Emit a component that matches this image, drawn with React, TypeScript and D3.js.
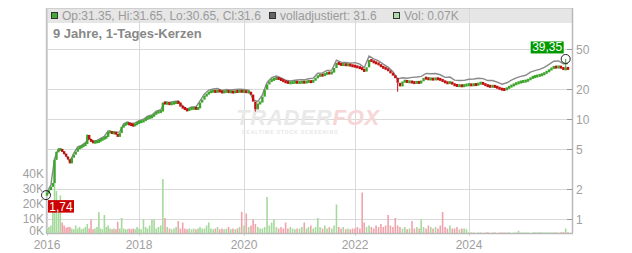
import React from "react";
import * as d3 from "d3";

// ---------- DATA ----------
// semi-monthly closes (1st & 16th of each month), Jan 2016 .. Oct 2025
const closes: number[] = [
  // 2016
  1.8, 1.95, 2.1, 2.3, 3.9, 4.7, 4.9, 5.0, 4.7, 4.5, 4.2, 3.95, 3.6, 4.1, 4.4, 4.7, 5.1, 5.2, 5.3, 5.5, 5.6, 6.9, 6.2, 6.0,
  // 2017
  5.8, 5.9, 5.9, 6.0, 6.2, 6.3, 6.5, 6.6, 7.4, 7.4, 7.2, 7.3, 7.1, 6.6, 7.2, 8.3, 8.6, 9.0, 9.0, 8.8, 8.7, 8.6, 8.8, 9.1,
  // 2018
  9.3, 9.4, 9.6, 10.0, 10.2, 10.4, 10.5, 11.2, 11.5, 11.8, 11.8, 14.5, 14.2, 14.3, 14.0, 14.2, 14.4, 14.6, 14.5, 13.2, 12.9, 12.4, 12.1, 12.6,
  // 2019
  12.6, 12.8, 12.6, 12.7, 14.5, 15.5, 17.0, 17.4, 18.6, 18.6, 19.0, 18.4, 19.2, 18.6, 18.4, 18.6, 18.8, 18.5, 18.6, 18.3, 18.8, 18.6, 18.9, 18.6,
  // 2020
  18.8, 18.4, 18.5, 17.4, 14.8, 12.4, 14.2, 14.5, 16.6, 19.5, 22.0, 23.5, 24.5, 24.8, 25.5, 24.8, 24.4, 23.5, 23.2, 22.8, 22.8, 23.0, 23.2, 22.9,
  // 2021
  23.0, 23.2, 23.0, 23.4, 23.6, 23.2, 24.0, 25.5, 26.8, 27.3, 27.0, 28.0, 28.6, 28.4, 28.8, 32.0, 36.0, 35.0, 34.5, 34.8, 34.2, 34.6, 33.8, 33.5,
  // 2022
  33.2, 32.5, 32.0, 31.0, 29.5, 32.5, 38.5, 37.5, 36.2, 35.8, 34.5, 33.0, 32.0, 31.5, 30.0, 28.6, 27.0, 25.5, 22.8, 21.0, 23.5, 23.8, 23.2, 23.4,
  // 2023
  23.0, 22.8, 23.2, 22.8, 23.6, 25.5, 25.2, 24.8, 25.0, 24.6, 25.2, 24.8, 24.5, 23.6, 23.0, 22.6, 23.2, 22.0, 21.6, 21.3, 21.4, 21.2, 21.5, 21.8,
  // 2024
  21.9, 21.6, 22.0, 21.8, 22.4, 22.8, 22.2, 21.5, 21.2, 20.9, 21.2, 20.8, 20.4, 19.8, 19.6, 19.5, 20.2, 20.9, 21.4, 22.0, 22.6, 23.0, 23.4, 23.6,
  // 2025
  23.8, 24.5, 25.5, 26.1, 26.4, 26.8, 27.2, 27.6, 28.5, 29.5, 30.5, 32.0, 32.8, 32.5, 33.0, 32.2, 31.0, 31.8, 31.6,
];
const firstOpen = 1.76;

// semi-monthly volume in thousands
const volumes: number[] = [
  2.5, 4, 5, 18, 35, 28, 20, 25, 7, 5, 3.5, 4, 4, 3, 2.5, 5, 3, 4, 2.5, 3, 4, 6, 3, 9,
  2.5, 3, 4, 14, 3, 2.5, 12, 4, 5, 3, 2.5, 3, 2.5, 7.5, 3, 10, 3, 2.5, 2.5, 3, 2.5, 3, 2.5, 4,
  3, 2.5, 9, 4, 3, 5, 9, 9, 3, 4, 5, 36, 10, 4, 3, 2.5, 3, 4, 8, 3, 7, 3, 2.5, 3,
  2.5, 3, 2.5, 3, 4, 3, 3, 5, 7, 3, 2.5, 3, 4, 2.5, 3, 2.5, 3, 4, 2.5, 3, 2.5, 3, 4, 14,
  5, 13, 4, 5, 9, 6, 4, 3, 3, 4, 24, 5, 7, 9, 4, 3, 4, 3, 7, 3, 4, 3, 2.5, 3,
  3, 4, 7, 3, 4, 5, 3, 4, 10, 4, 3, 5, 3, 4, 3, 5, 19, 4, 3, 4, 2.5, 3, 2.5, 3,
  3, 4, 3, 27, 7, 4, 5, 4, 3, 5, 4, 6, 4, 5, 12, 5, 4, 10, 5, 4, 3, 4, 2.5, 3,
  8, 3, 4, 3, 9, 4, 3, 5, 4, 3, 4, 3, 5, 14, 4, 3, 5, 3, 3, 4, 2.5, 3, 3, 2.5,
  0.5, 0.3, 0.4, 0, 0.3, 0.4, 0, 0.3, 0.5, 0, 0.3, 0.4, 0, 0.3, 0.4, 0.3, 0.3, 0.5, 0, 0.3, 0.4, 1.5, 0.3, 0.4,
  0.3, 0.4, 0, 0.3, 0.5, 0.4, 0.6, 0.5, 0.4, 0.5, 0.3, 0.4, 0.5, 0.4, 0.3, 0.5, 0.6, 3, 0.5,
];

// monthly "volladjustiert" line, Jan 2016 .. Oct 2025
const adjusted: number[] = [
  1.85, 2.2, 4.0, 5.05, 4.85, 4.3, 3.75, 4.55, 5.25, 5.45, 5.8, 6.4,
  6.0, 6.1, 6.4, 6.7, 7.6, 7.4, 7.3, 7.4, 8.9, 9.3, 9.0, 9.1,
  9.6, 9.9, 10.6, 10.9, 11.9, 12.3, 14.7, 14.5, 14.9, 15.0, 13.4, 12.5,
  13.1, 13.1, 15.1, 17.7, 19.3, 19.8, 20.0, 19.1, 19.6, 19.3, 19.6, 19.7,
  19.6, 19.3, 15.5, 14.8, 17.3, 23.0, 25.6, 26.6, 25.5, 24.2, 23.8, 24.2,
  24.4, 24.4, 25.0, 25.4, 28.4, 28.6, 30.3, 30.5, 38.2, 36.6, 36.3, 35.8,
  36.2, 34.9, 32.2, 42.0, 39.5, 37.6, 34.9, 32.7, 29.4, 24.9, 25.6, 25.3,
  25.8, 26.0, 26.4, 28.2, 28.0, 28.2, 27.4, 25.8, 26.0, 24.2, 24.0, 24.1,
  24.7, 24.9, 25.3, 25.1, 24.0, 24.0, 23.1, 22.1, 22.8, 24.2, 25.5, 26.4,
  27.1, 29.1, 30.1, 31.0, 32.5, 34.8, 37.4, 37.6, 35.3, 35.5,
];

// notable wick extremes
const wickExtremes = [
  { date: "2016-01-01", low: 1.74 },
  { date: "2016-11-16", high: 7.0 },
  { date: "2020-03-16", low: 11.8 },
  { date: "2022-10-01", low: 18.6 },
  { date: "2025-09-16", high: 39.35 },
];

const priceTicks = [1, 2, 5, 10, 20, 50];
const volumeTicks = [0, 10, 20, 30, 40];
const yearTicks = [2016, 2018, 2020, 2022, 2024];
const maxLabel = { date: "2025-09-16", value: 39.35, text: "39,35" };
const minLabel = { date: "2016-01-01", value: 1.74, text: "1,74" };

const headerItems = [
  { text: "Op:31.35, Hi:31.65, Lo:30.65, Cl:31.6", fill: "#44aa33" },
  { text: "volladjustiert: 31.6", fill: "#666666" },
  { text: "Vol: 0.07K", fill: "#aaddaa" },
];

// ---------- helpers ----------
const parse = d3.timeParse("%Y-%m-%d");
function semiMonthlyDates(n: number): Date[] {
  const out: Date[] = [];
  let y = 2016, m = 0, half = 0;
  while (out.length < n) {
    out.push(new Date(y, m, half === 0 ? 1 : 16));
    if (half === 1) { m++; if (m > 11) { m = 0; y++; } }
    half = 1 - half;
  }
  return out;
}
function monthlyDates(n: number): Date[] {
  const out: Date[] = [];
  for (let i = 0; i < n; i++) out.push(new Date(2016, i, 1));
  return out;
}

const W = 632, H = 253;
const L = 46, R = 572, TOP = 8, BOT = 233;
const FONT = "'Liberation Sans', Arial, sans-serif";

export default function App() {
  const dates = semiMonthlyDates(closes.length);
  const mDates = monthlyDates(adjusted.length);

  const x = d3
    .scaleTime()
    .domain([new Date(2016, 0, 1), new Date(2018, 0, 1), new Date(2020, 0, 1), new Date(2022, 0, 1), new Date(2024, 0, 1), new Date(2025, 9, 1)])
    .range([47, 139, 244, 355, 469, 568]);
  const y = d3.scaleLog().domain([1, 50]).range([219.3, 48.5]);
  const yv = d3.scaleLinear().domain([0, 40]).range([BOT, 173]);

  const candles = closes.map((c, i) => {
    const o = i === 0 ? firstOpen : closes[i - 1];
    return { date: dates[i], open: o, close: c, vol: volumes[i] ?? 0, up: c >= o };
  });

  const line = d3
    .line<number>()
    .x((_, i) => x(mDates[i]))
    .y((d) => y(d));

  const GREEN = "#3ea52c";
  const RED = "#c21010";

  const findCandle = (ds: string) => {
    const t = parse(ds)!.getTime();
    return candles.find((c) => c.date.getTime() === t)!;
  };

  const maxC = findCandle(maxLabel.date);
  const minC = findCandle(minLabel.date);
  const maxX = x(maxC.date), maxY = y(maxLabel.value);
  const minX = x(minC.date) - 1, minY = y(minLabel.value);

  return (
    <svg width={W} height={H} style={{ position: "absolute", left: 0, top: 0, background: "#fff" }} fontFamily={FONT}>
      <rect x={0} y={0} width={W} height={H} fill="#fff" />
      {/* header band */}
      <rect x={L} y={TOP} width={R - L} height={15} fill="#e6e6e6" />
      {/* grid */}
      {yearTicks.map((yr) => {
        const gx = Math.round(x(new Date(yr, 0, 1))) + 0.5;
        return <line key={yr} x1={gx} x2={gx} y1={TOP} y2={BOT + 3} stroke="#d9d9d9" />;
      })}
      {priceTicks.map((p) => {
        const gy = Math.round(y(p)) + 0.5;
        return <line key={p} x1={L} x2={R} y1={gy} y2={gy} stroke="#d9d9d9" />;
      })}
      {/* borders */}
      <line x1={L + 0.5} x2={L + 0.5} y1={TOP} y2={BOT} stroke="#c4c4c4" strokeWidth={1.5} />
      <line x1={R + 0.5} x2={R + 0.5} y1={TOP} y2={BOT} stroke="#b8b8b8" strokeWidth={1.5} />
      <line x1={L} x2={R} y1={TOP + 0.5} y2={TOP + 0.5} stroke="#cfcfcf" />
      <line x1={L} x2={R + 1} y1={BOT + 0.5} y2={BOT + 0.5} stroke="#b8b8b8" strokeWidth={1.5} />

      {/* watermark */}
      <g fontStyle="italic" fontWeight="bold">
        <text x={236} y={125} fontSize={22} letterSpacing={0.8} fill="#e9e9e9">
          TRADER<tspan fill="#f6d6d6">FOX</tspan>
        </text>
        <text x={242} y={134} fontSize={5} letterSpacing={0.9} fill="#e6e6e6" fontStyle="normal">
          REALTIME STOCK SCREENING
        </text>
      </g>

      {/* header texts */}
      <g fontSize={12} fill="#9a9a9a">
        {headerItems.map((h, i) => {
          const sx = [51, 269, 393][i];
          return (
            <g key={i}>
              <rect x={sx + 0.5} y={12.5} width={6} height={6} fill={h.fill} stroke="#333" />
              <text x={sx + 11} y={20}>{h.text}</text>
            </g>
          );
        })}
      </g>
      <text x={53} y={38} fontSize={13} fontWeight="bold" fill="#888">9 Jahre, 1-Tages-Kerzen</text>

      {/* volume bars */}
      {candles.map((c, i) =>
        c.vol > 0 ? (
          <rect key={"v" + i} x={x(c.date) - 0.8} y={yv(c.vol)} width={1.6} height={BOT - yv(c.vol)} fill={c.up ? "#a6d99c" : "#f0a3ab"} />
        ) : null
      )}

      {/* adjusted line */}
      <path d={line(adjusted) || ""} fill="none" stroke="#8a8a8a" strokeWidth={1.4} />

      {/* wick extremes */}
      {wickExtremes.map((w, i) => {
        const c = findCandle(w.date);
        const cx = x(c.date);
        const from = w.high !== undefined ? y(Math.max(c.open, c.close)) : y(Math.min(c.open, c.close));
        const to = w.high !== undefined ? y(w.high) : y(w.low!);
        return <line key={"w" + i} x1={cx} x2={cx} y1={from} y2={to} stroke={c.up ? GREEN : RED} strokeWidth={1} />;
      })}

      {/* candles */}
      {candles.map((c, i) => {
        const top = y(Math.max(c.open, c.close));
        const bot = y(Math.min(c.open, c.close));
        const h = Math.max(3, bot - top);
        return <rect key={"c" + i} x={x(c.date) - 1.2} y={top - (h - (bot - top)) / 2} width={2.4} height={h} fill={c.up ? GREEN : RED} />;
      })}

      {/* markers */}
      <circle cx={maxX} cy={maxY} r={4.5} fill="none" stroke="#222" strokeWidth={1} />
      <circle cx={minX} cy={minY} r={4.5} fill="none" stroke="#222" strokeWidth={1} />
      <g fontSize={12} fill="#fff">
        <rect x={maxX - 35} y={maxY - 17.5} width={33} height={12} fill="#009900" />
        <text x={maxX - 18.5} y={maxY - 7.5} textAnchor="middle">{maxLabel.text}</text>
        <rect x={minX + 2} y={minY + 5} width={26} height={12.5} fill="#cc0000" />
        <text x={minX + 15} y={minY + 15.5} textAnchor="middle">{minLabel.text}</text>
      </g>

      {/* right price axis */}
      <g fontSize={12} fill="#a0a0a0">
        {priceTicks.map((p) => {
          const ty = Math.round(y(p)) + 0.5;
          return (
            <g key={p}>
              <line x1={R - 5} x2={R} y1={ty} y2={ty} stroke="#999" />
              <text x={R + 4} y={ty + 4.5}>{p}</text>
            </g>
          );
        })}
      </g>
      {/* left volume axis */}
      <g fontSize={12} fill="#a0a0a0" textAnchor="end">
        {volumeTicks.map((v) => (
          <text key={v} x={44} y={yv(v) + (v === 0 ? 2 : 4.5)}>{v + "K"}</text>
        ))}
      </g>
      {/* x axis labels */}
      <g fontSize={12} fill="#a0a0a0" textAnchor="middle">
        {yearTicks.map((yr) => (
          <text key={yr} x={x(new Date(yr, 0, 1))} y={248.5}>{yr}</text>
        ))}
      </g>
    </svg>
  );
}
